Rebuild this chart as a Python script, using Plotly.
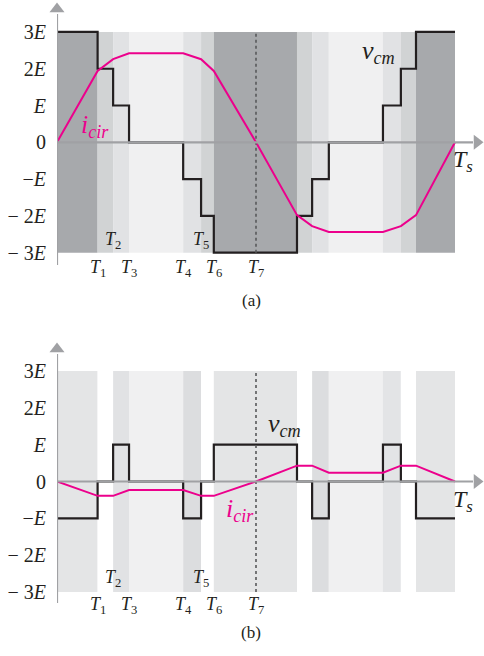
import plotly.graph_objects as go

# Switching instants over one period, as fractions of Ts
t_sw = [0, 0.102, 0.141, 0.181, 0.317, 0.362, 0.394, 0.5,
        0.603, 0.641, 0.683, 0.819, 0.864, 0.902, 1.0]
t_names = ["T<sub>1</sub>", "T<sub>2</sub>", "T<sub>3</sub>", "T<sub>4</sub>",
           "T<sub>5</sub>", "T<sub>6</sub>", "T<sub>7</sub>"]

# Common-mode voltage level (in units of E) in each interval
vcm_a = [3, 2, 1, 0, -1, -2, -3, -3, -2, -1, 0, 1, 2, 3]
vcm_b = [-1, 0, 1, 0, -1, 0, 1, 1, 0, -1, 0, 1, 0, -1]

# Circulating current at each switching instant
icir_a = [0, 1.94, 2.26, 2.42, 2.42, 2.26, 1.94, 0,
          -1.98, -2.28, -2.44, -2.44, -2.28, -1.98, 0]
icir_b = [0, -0.39, -0.39, -0.23, -0.23, -0.39, -0.39, 0,
          0.43, 0.43, 0.24, 0.24, 0.43, 0.43, 0]

# Interval shading
shade_a = ["#a7a9ac", "#d1d3d4", "#e1e2e4", "#f0f0f1", "#e1e2e4", "#d1d3d4", "#a7a9ac",
           "#a7a9ac", "#d1d3d4", "#e1e2e4", "#f0f0f1", "#e1e2e4", "#d1d3d4", "#a7a9ac"]
shade_b = ["#e4e5e6", "#ffffff", "#e1e2e4", "#f0f0f1", "#dcdddf", "#ffffff", "#e4e5e6",
           "#e4e5e6", "#ffffff", "#dcdddf", "#f0f0f1", "#e3e4e6", "#ffffff", "#e4e5e6"]

ytick_vals = [3, 2, 1, 0, -1, -2, -3]
ytick_text = ["3<i>E</i>", "2<i>E</i>", "<i>E</i>", "0",
              "\u2212<i>E</i>", "\u2212 2<i>E</i>", "\u2212 3<i>E</i>"]

W, H = 484, 656
X0, XS = 57, 398          # pixel of t=0 and pixels per Ts
SERIF = "Liberation Serif, Times New Roman, Times, DejaVu Serif, serif"
INK = "#231f20"
MAG = "#ec008c"
AX = "#a0a1a4"

panels = {
    "a": dict(top=0, bot=320, zero=142.3, unit=36.78, x="x", y="y"),
    "b": dict(top=328, bot=656, zero=481.5, unit=36.83, x="x2", y="y2"),
}


def dx(px):
    return (px - X0) / XS


def dy(p, py):
    return (p["zero"] - py) / p["unit"]


fig = go.Figure()
shapes, annots = [], []

for key, vcm, icir, shade in [("a", vcm_a, icir_a, shade_a), ("b", vcm_b, icir_b, shade_b)]:
    p = panels[key]
    xr, yr = p["x"], p["y"]
    # background bands for each interval
    for i, c in enumerate(shade):
        shapes.append(dict(type="rect", xref=xr, yref=yr, x0=t_sw[i], x1=t_sw[i + 1],
                           y0=-3, y1=3, fillcolor=c, line=dict(width=0), layer="below"))
    # T7 marker line
    shapes.append(dict(type="line", xref=xr, yref=yr, x0=t_sw[7], x1=t_sw[7], y0=-3, y1=3,
                       line=dict(color="#58595b", width=1.6, dash="dot")))
    # axes
    top_px = 14 if key == "a" else 354
    bot_px = 265 if key == "a" else 603
    shapes.append(dict(type="line", xref=xr, yref=yr, x0=0, x1=0,
                       y0=dy(p, top_px), y1=dy(p, bot_px),
                       line=dict(color=AX, width=2.2)))
    shapes.append(dict(type="line", xref=xr, yref=yr, x0=0, x1=dx(473), y0=0, y1=0,
                       line=dict(color=AX, width=2.2)))
    # arrow heads
    fig.add_trace(go.Scatter(x=[0, dx(477)], y=[dy(p, top_px - 5), 0],
                             mode="markers", xaxis=xr, yaxis=yr, cliponaxis=False,
                             marker=dict(symbol=["triangle-up", "triangle-right"], size=13,
                                         color=AX, line=dict(width=0)),
                             hoverinfo="skip", showlegend=False))
    # v_cm staircase
    fig.add_trace(go.Scatter(x=t_sw, y=vcm + [vcm[-1]], mode="lines", line_shape="hv",
                             line=dict(color=INK, width=2.2), xaxis=xr, yaxis=yr,
                             cliponaxis=False, showlegend=False))
    # circulating current
    fig.add_trace(go.Scatter(x=t_sw, y=icir, mode="lines",
                             line=dict(color=MAG, width=2), xaxis=xr, yaxis=yr,
                             cliponaxis=False, showlegend=False))
    # switching instant labels
    hi = {"a": (240, 268), "b": (578, 605)}[key]
    for i, name in enumerate(t_names):
        py = hi[0] if i in (1, 4) else hi[1]
        annots.append(dict(xref=xr, yref=yr, x=t_sw[i + 1], y=dy(p, py),
                           text="<i>" + name.replace("<sub>", "</i><sub>"),
                           xanchor="center", yanchor="middle",
                           showarrow=False, font=dict(family=SERIF, size=18, color=INK)))
    # Ts label
    annots.append(dict(xref=xr, yref=yr, x=dx(463), y=dy(p, p["zero"] + 19),
                       text="<i>T</i><sub><i>s</i></sub>", showarrow=False,
                       xanchor="center", yanchor="middle",
                       font=dict(family=SERIF, size=24, color=INK)))

# curve labels
pa, pb = panels["a"], panels["b"]
lab = [
    ("x", "y", pa, 378, 52, "<i>v</i><sub><i>cm</i></sub>", INK),
    ("x", "y", pa, 95, 126, "<i>i</i><sub><i>cir</i></sub>", MAG),
    ("x2", "y2", pb, 284, 425, "<i>v</i><sub><i>cm</i></sub>", INK),
    ("x2", "y2", pb, 240, 510, "<i>i</i><sub><i>cir</i></sub>", MAG),
]
for xr, yr, p, px, py, txt, col in lab:
    annots.append(dict(xref=xr, yref=yr, x=dx(px), y=dy(p, py), text=txt, showarrow=False,
                       xanchor="center", yanchor="middle",
                       font=dict(family=SERIF, size=26, color=col)))

# panel captions
for txt, py in [("(a)", 300), ("(b)", 632)]:
    annots.append(dict(xref="paper", yref="paper", x=(251 - X0) / (W - X0), y=1 - py / H,
                       xanchor="center", yanchor="middle",
                       text=txt, showarrow=False, font=dict(family=SERIF, size=17, color=INK)))

xspan = [0, (W - X0) / XS]


def yrange(p):
    return [(p["zero"] - p["bot"]) / p["unit"], (p["zero"] - p["top"]) / p["unit"]]


axis_common = dict(showgrid=False, zeroline=False, showline=False, ticks="")
fig.update_layout(
    width=W, height=H, margin=dict(l=X0, r=0, t=0, b=0),
    paper_bgcolor="white", plot_bgcolor="rgba(0,0,0,0)",
    font=dict(family=SERIF, color=INK),
    xaxis=dict(domain=[0, 1], range=xspan, showticklabels=False, anchor="y", **axis_common),
    xaxis2=dict(domain=[0, 1], range=xspan, showticklabels=False, anchor="y2", **axis_common),
    yaxis=dict(domain=[1 - pa["bot"] / H, 1 - pa["top"] / H], range=yrange(pa), anchor="x",
               tickvals=ytick_vals, ticktext=ytick_text, ticklabelstandoff=10,
               tickfont=dict(family=SERIF, size=20, color=INK), **axis_common),
    yaxis2=dict(domain=[1 - pb["bot"] / H, 1 - pb["top"] / H], range=yrange(pb), anchor="x2",
                tickvals=ytick_vals, ticktext=ytick_text, ticklabelstandoff=10,
                tickfont=dict(family=SERIF, size=20, color=INK), **axis_common),
    shapes=shapes, annotations=annots, showlegend=False,
)

fig.write_html("out.html")
